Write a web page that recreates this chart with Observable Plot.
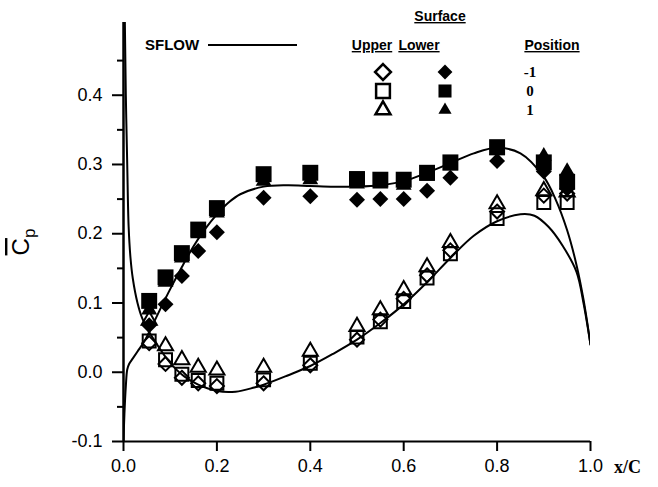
<!DOCTYPE html>
<html>
<head>
<meta charset="utf-8">
<script src="https://cdn.jsdelivr.net/npm/d3@7"></script>
<script src="https://cdn.jsdelivr.net/npm/@observablehq/plot@0.6"></script>
<style>
  html, body { margin: 0; padding: 0; background: #fff; }
  #chart svg { display: block; }
</style>
</head>
<body>
<div id="chart"></div>
<script>
// Pressure-tap chord stations (x/C)
const stations = [0.055, 0.09, 0.125, 0.16, 0.2, 0.3, 0.4, 0.5, 0.55, 0.6, 0.65, 0.7, 0.8, 0.9, 0.95];

// Lower surface (filled symbols), mean Cp by position
const lowerPosM1 = [0.068, 0.098, 0.139, 0.175, 0.202, 0.252, 0.254, 0.249, 0.250, 0.250, 0.262, 0.281, 0.305, 0.290, 0.265];
const lowerPos0  = [0.103, 0.137, 0.172, 0.206, 0.237, 0.286, 0.288, 0.279, 0.278, 0.278, 0.288, 0.303, 0.325, 0.303, 0.275];
const lowerPos1  = [0.090, 0.130, 0.165, 0.200, 0.230, 0.276, 0.278, 0.272, 0.272, 0.270, 0.283, 0.298, 0.320, 0.312, 0.290];

// Upper surface (open symbols), mean Cp by position
const upperPosM1 = [0.042, 0.012, -0.008, -0.016, -0.020, -0.016, 0.010, 0.047, 0.076, 0.106, 0.140, 0.176, 0.232, 0.255, 0.258];
const upperPos0  = [0.045, 0.018, -0.003, -0.012, -0.016, -0.011, 0.013, 0.051, 0.073, 0.102, 0.136, 0.171, 0.222, 0.245, 0.245];
const upperPos1  = [0.075, 0.038, 0.018, 0.007, 0.003, 0.007, 0.030, 0.066, 0.090, 0.119, 0.152, 0.187, 0.243, 0.262, 0.260];

// SFLOW prediction, lower surface
const sflowLowerX  = [0, 0.002, 0.005, 0.008, 0.012, 0.02, 0.03, 0.045, 0.06, 0.08, 0.1, 0.125, 0.15, 0.175, 0.2, 0.225, 0.25, 0.3, 0.35, 0.4, 0.45, 0.5, 0.55, 0.6, 0.65, 0.7, 0.75, 0.8, 0.85, 0.9, 0.925, 0.95, 0.97, 0.985, 1.0];
const sflowLowerCp = [-0.1, -0.06, -0.02, 0.004, 0.012, 0.02, 0.03, 0.045, 0.065, 0.093, 0.12, 0.152, 0.182, 0.207, 0.228, 0.245, 0.257, 0.268, 0.270, 0.269, 0.268, 0.268, 0.270, 0.276, 0.288, 0.302, 0.316, 0.324, 0.316, 0.282, 0.250, 0.205, 0.155, 0.105, 0.04];

// SFLOW prediction, upper surface
const sflowUpperX  = [0.0015, 0.003, 0.005, 0.008, 0.011, 0.015, 0.02, 0.03, 0.04, 0.055, 0.07, 0.09, 0.11, 0.13, 0.16, 0.2, 0.24, 0.28, 0.3, 0.35, 0.4, 0.45, 0.5, 0.55, 0.6, 0.65, 0.7, 0.75, 0.8, 0.85, 0.88, 0.91, 0.94, 0.97, 0.985, 1.0];
const sflowUpperCp = [0.6, 0.5, 0.4, 0.3, 0.21, 0.165, 0.135, 0.1, 0.078, 0.058, 0.042, 0.022, 0.006, -0.006, -0.018, -0.027, -0.028, -0.022, -0.018, -0.005, 0.009, 0.027, 0.047, 0.071, 0.098, 0.13, 0.165, 0.197, 0.218, 0.228, 0.226, 0.21, 0.183, 0.145, 0.1, 0.04];

// Axis ticks
const xTicks = [0, 0.2, 0.4, 0.6, 0.8, 1.0];
const yTicks = [-0.1, 0, 0.1, 0.2, 0.3, 0.4];
const yMinorTicks = [-0.05, 0.05, 0.15, 0.25, 0.35, 0.45];

const pts = (ys) => stations.map((x, i) => ({x, cp: ys[i]}));
const curve = (xs, ys) => xs.map((x, i) => ({x, cp: ys[i]}));

const lineStyle = {x: "x", y: "cp", stroke: "#000", strokeWidth: 2, curve: "catmull-rom", clip: true};
const filled = (ys, symbol, r) => Plot.dot(pts(ys), {x: "x", y: "cp", symbol, r, fill: "#000", stroke: "none"});
const open = (ys, symbol, r) => Plot.dot(pts(ys), {x: "x", y: "cp", symbol, r, fill: "none", stroke: "#000", strokeWidth: 2});

const chart = Plot.plot({
  width: 658,
  height: 487,
  marginLeft: 123,
  marginRight: 68,
  marginTop: 22,
  marginBottom: 46,
  x: {domain: [0, 1]},
  y: {domain: [-0.1, 0.505]},
  style: {fontFamily: "'Liberation Sans', Arial, sans-serif", fontSize: "18px", color: "#000", background: "#fff", overflow: "visible"},
  marks: [
    Plot.ruleX([0], {y1: -0.1, y2: 0.505, stroke: "#000", strokeWidth: 2.5}),
    Plot.ruleY([-0.1], {x1: 0, x2: 1, stroke: "#000", strokeWidth: 2}),
    Plot.axisY({ticks: yTicks, tickFormat: (d) => d.toFixed(1), tickSize: 11, tickPadding: 10, strokeWidth: 2, label: null, fontSize: 18}),
    Plot.axisY({ticks: yMinorTicks, tickFormat: () => "", tickSize: 6, strokeWidth: 2, label: null}),
    Plot.axisX({ticks: xTicks, tickFormat: (d) => d.toFixed(1), tickSize: 10, tickPadding: 8, strokeWidth: 2, label: null, fontSize: 18}),
    Plot.line(curve(sflowLowerX, sflowLowerCp), lineStyle),
    Plot.line(curve(sflowUpperX, sflowUpperCp), lineStyle),
    open(upperPosM1, "diamond2", 6.3),
    open(upperPos0, "square", 7.3),
    open(upperPos1, "triangle", 5.6),
    filled(lowerPosM1, "diamond2", 7.2),
    filled(lowerPos0, "square", 9.0),
    filled(lowerPos1, "triangle", 5.9)
  ]
});

document.getElementById("chart").appendChild(chart);

// Axis titles and the symbol key
const svg = d3.select(chart);

const yTitle = svg.append("text")
  .attr("transform", "translate(29,242) rotate(-90)")
  .attr("text-anchor", "middle")
  .attr("font-family", "'Liberation Sans', Arial, sans-serif")
  .attr("font-size", 24)
  .attr("fill", "#000");
yTitle.append("tspan").attr("text-decoration", "overline").text("C");
yTitle.append("tspan").attr("font-size", 17).attr("dy", 6).text("p");

svg.append("text")
  .attr("x", 614).attr("y", 473)
  .attr("text-anchor", "start")
  .attr("font-family", "'Liberation Serif', 'Times New Roman', serif")
  .attr("font-weight", "bold")
  .attr("font-size", 18)
  .attr("fill", "#000")
  .text("x/C");

const key = svg.append("g")
  .attr("font-family", "'Liberation Sans', Arial, sans-serif")
  .attr("font-weight", "bold")
  .attr("fill", "#000");

key.append("text").attr("x", 145).attr("y", 50).attr("text-anchor", "start")
  .attr("font-size", 15).text("SFLOW");
key.append("line").attr("x1", 208).attr("x2", 297).attr("y1", 45).attr("y2", 45)
  .attr("stroke", "#000").attr("stroke-width", 2);

const header = (x, y, t) => key.append("text")
  .attr("x", x).attr("y", y).attr("text-anchor", "middle")
  .attr("font-size", 14).attr("text-decoration", "underline").text(t);
header(440, 21, "Surface");
header(372, 50, "Upper");
header(419, 50, "Lower");
header(552, 50, "Position");

const keyRows = [
  {label: "-1", type: d3.symbolDiamond2, openSize: 160, fillSize: 140, y: 72},
  {label: "0", type: d3.symbolSquare, openSize: 190, fillSize: 170, y: 91},
  {label: "1", type: d3.symbolTriangle, openSize: 97, fillSize: 75, y: 110}
];
for (const row of keyRows) {
  key.append("path")
    .attr("transform", `translate(383,${row.y})`)
    .attr("d", d3.symbol(row.type, row.openSize)())
    .attr("fill", "none").attr("stroke", "#000").attr("stroke-width", 2.5);
  key.append("path")
    .attr("transform", `translate(445,${row.y})`)
    .attr("d", d3.symbol(row.type, row.fillSize)())
    .attr("fill", "#000");
  key.append("text")
    .attr("x", 530).attr("y", row.y + 5).attr("text-anchor", "middle")
    .attr("font-family", "'Liberation Serif', 'Times New Roman', serif")
    .attr("font-size", 15).text(row.label);
}
</script>
</body>
</html>
